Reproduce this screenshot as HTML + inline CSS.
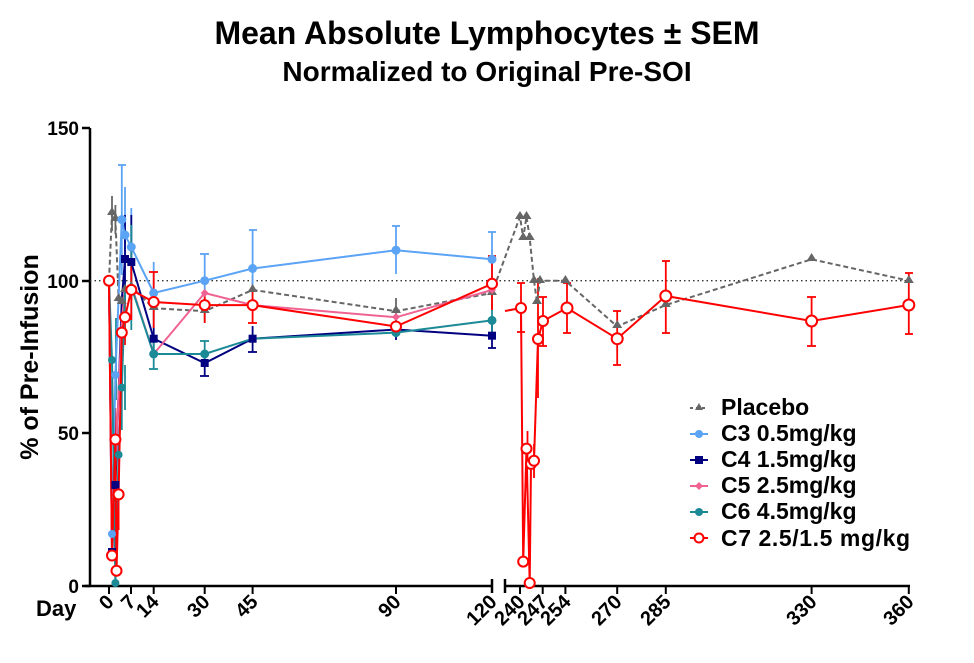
<!DOCTYPE html>
<html><head><meta charset="utf-8"><style>
body{margin:0;background:#fff}
text{font-family:"Liberation Sans",Arial,sans-serif;font-weight:bold}
</style></head><body>
<svg width="974" height="658" xmlns="http://www.w3.org/2000/svg">
<text x="487" y="44" font-size="32" text-anchor="middle">Mean Absolute Lymphocytes ± SEM</text>
<text x="487" y="81" font-size="28" text-anchor="middle">Normalized to Original Pre-SOI</text>
<text transform="translate(38,357) rotate(-90)" font-size="25" text-anchor="middle">% of Pre-Infusion</text>
<g stroke="#000" stroke-width="2.5" fill="none">
<line x1="90" y1="128" x2="90" y2="587"/>
<line x1="82" y1="128" x2="90" y2="128"/><line x1="82" y1="281" x2="90" y2="281"/>
<line x1="82" y1="433" x2="90" y2="433"/><line x1="82" y1="586" x2="90" y2="586"/>
<line x1="85" y1="586" x2="492" y2="586"/>
<line x1="492" y1="579" x2="492" y2="593"/>
<line x1="505" y1="586" x2="910" y2="586"/>
<line x1="505" y1="579" x2="505" y2="593"/>
<g stroke-width="2">
<line x1="109" y1="586" x2="109" y2="594"/><line x1="131" y1="586" x2="131" y2="594"/><line x1="153.7" y1="586" x2="153.7" y2="594"/>
<line x1="204.7" y1="586" x2="204.7" y2="594"/><line x1="252.6" y1="586" x2="252.6" y2="594"/><line x1="396" y1="586" x2="396" y2="594"/>
<line x1="520" y1="586" x2="520" y2="594"/><line x1="542.7" y1="586" x2="542.7" y2="594"/><line x1="565.4" y1="586" x2="565.4" y2="594"/>
<line x1="617.2" y1="586" x2="617.2" y2="594"/><line x1="665.8" y1="586" x2="665.8" y2="594"/><line x1="811.6" y1="586" x2="811.6" y2="594"/><line x1="908.8" y1="586" x2="908.8" y2="594"/>
</g></g>
<g font-size="19" text-anchor="end">
<text x="79" y="135">150</text><text x="79" y="288">100</text><text x="79" y="440">50</text><text x="79" y="593">0</text>
</g>
<text x="36" y="616" font-size="22">Day</text>
<g font-size="20" text-anchor="end">
<text transform="translate(115,603) rotate(-45)">0</text>
<text transform="translate(137,603) rotate(-45)">7</text>
<text transform="translate(160,603) rotate(-45)">14</text>
<text transform="translate(211,603) rotate(-45)">30</text>
<text transform="translate(259,603) rotate(-45)">45</text>
<text transform="translate(402,603) rotate(-45)">90</text>
<text transform="translate(498,603) rotate(-45)">120</text>
<text transform="translate(526,603) rotate(-45)">240</text>
<text transform="translate(549,603) rotate(-45)">247</text>
<text transform="translate(572,603) rotate(-45)">254</text>
<text transform="translate(623,603) rotate(-45)">270</text>
<text transform="translate(672,603) rotate(-45)">285</text>
<text transform="translate(818,603) rotate(-45)">330</text>
<text transform="translate(915,603) rotate(-45)">360</text>
</g>
<line x1="90" y1="280.7" x2="910" y2="280.7" stroke="#333" stroke-width="1.3" stroke-dasharray="1.5,3"/>

<g stroke-width="1.8" fill="none">
<g stroke="#666"><line x1="112" y1="196" x2="112" y2="231"/><line x1="115.4" y1="205" x2="115.4" y2="234"/><line x1="153.7" y1="296" x2="153.7" y2="320"/><line x1="204.7" y1="300" x2="204.7" y2="322"/><line x1="252.6" y1="276" x2="252.6" y2="304"/><line x1="396" y1="298" x2="396" y2="324"/><line x1="492" y1="276" x2="492" y2="310"/></g>
<g stroke="#5ba3f5"><line x1="121.8" y1="165" x2="121.8" y2="275"/><line x1="125" y1="187" x2="125" y2="283"/><line x1="131.3" y1="208" x2="131.3" y2="285"/><line x1="153.7" y1="262" x2="153.7" y2="325"/><line x1="204.7" y1="254" x2="204.7" y2="306"/><line x1="252.6" y1="230" x2="252.6" y2="306"/><line x1="396" y1="226" x2="396" y2="274"/><line x1="492" y1="232" x2="492" y2="286"/>
<line x1="118" y1="165" x2="126" y2="165"/><line x1="249" y1="230" x2="257" y2="230"/><line x1="392" y1="226" x2="400" y2="226"/><line x1="488" y1="232" x2="496" y2="232"/><line x1="200" y1="254" x2="209" y2="254"/></g>
<g stroke="#000080"><line x1="125" y1="215" x2="125" y2="300"/><line x1="131.3" y1="215" x2="131.3" y2="300"/><line x1="153.7" y1="325" x2="153.7" y2="352"/><line x1="204.7" y1="350" x2="204.7" y2="376"/><line x1="252.6" y1="326" x2="252.6" y2="352"/><line x1="396" y1="320" x2="396" y2="340"/><line x1="492" y1="323" x2="492" y2="348"/>
<line x1="200" y1="376" x2="209" y2="376"/><line x1="248" y1="352" x2="257" y2="352"/><line x1="488" y1="348" x2="496" y2="348"/></g>
<g stroke="#1b8a96"><line x1="116" y1="318" x2="116" y2="400"/><line x1="121.8" y1="340" x2="121.8" y2="430"/><line x1="125" y1="365" x2="125" y2="410"/><line x1="131.3" y1="225" x2="131.3" y2="330"/><line x1="153.7" y1="340" x2="153.7" y2="369"/><line x1="204.7" y1="341" x2="204.7" y2="366"/><line x1="492" y1="306" x2="492" y2="335"/>
<line x1="149" y1="369" x2="158" y2="369"/><line x1="200" y1="341" x2="209" y2="341"/></g>
<g stroke="#f00"><line x1="115.4" y1="408" x2="115.4" y2="470"/><line x1="118.6" y1="462" x2="118.6" y2="530"/><line x1="121.8" y1="318" x2="121.8" y2="350"/><line x1="125" y1="300" x2="125" y2="345"/><line x1="131.3" y1="262" x2="131.3" y2="320"/><line x1="153.7" y1="272" x2="153.7" y2="328"/><line x1="204.7" y1="290" x2="204.7" y2="323"/><line x1="252.6" y1="285" x2="252.6" y2="323"/><line x1="492" y1="256" x2="492" y2="310"/>
<line x1="149" y1="272" x2="158" y2="272"/><line x1="248" y1="323" x2="257" y2="323"/><line x1="488" y1="256" x2="496" y2="256"/>
<line x1="521" y1="283" x2="521" y2="332"/><line x1="517" y1="283" x2="525" y2="283"/><line x1="517" y1="332" x2="525" y2="332"/>
<line x1="527.5" y1="431" x2="527.5" y2="462"/><line x1="534" y1="444" x2="534" y2="478"/><line x1="538" y1="278" x2="538" y2="398"/><line x1="543" y1="297" x2="543" y2="346"/><line x1="539" y1="297" x2="547" y2="297"/><line x1="539" y1="346" x2="547" y2="346"/>
<line x1="567" y1="283" x2="567" y2="333"/><line x1="563" y1="283" x2="571" y2="283"/><line x1="563" y1="333" x2="571" y2="333"/>
<line x1="617.2" y1="311" x2="617.2" y2="365"/><line x1="613" y1="311" x2="621" y2="311"/><line x1="613" y1="365" x2="621" y2="365"/>
<line x1="665.8" y1="261" x2="665.8" y2="333"/><line x1="662" y1="261" x2="670" y2="261"/><line x1="662" y1="333" x2="670" y2="333"/>
<line x1="811.6" y1="297" x2="811.6" y2="346"/><line x1="807" y1="297" x2="816" y2="297"/><line x1="807" y1="346" x2="816" y2="346"/>
<line x1="908.8" y1="273" x2="908.8" y2="334"/><line x1="905" y1="273" x2="913" y2="273"/><line x1="905" y1="334" x2="913" y2="334"/></g>
</g>

<g fill="none" stroke-width="2">
<polyline stroke="#666" stroke-dasharray="5,3" points="109,280.7 112,213.5 115.4,219.6 118.6,299 121.8,302 125,289.9 131.3,286.8 153.7,308.2 204.7,311.2 252.6,289.9 396,311.2 492,293 520,216.6 523.2,238 526.5,216.6 529.7,238 534,280.7 537,302 540,280.7 565.4,280.7 617.2,326.5 665.8,305 811.6,259.3 908.8,280.7"/>
<polyline stroke="#5ba3f5" points="109,280.7 112,534 115.4,375.3 121.8,219.6 125,235 131.3,247 153.7,293 204.7,280.7 252.6,268.5 396,250.2 492,259.3"/>
<polyline stroke="#000080" points="109,280.7 112,552.4 115.4,485.2 121.8,300 125,259.3 131.3,262.4 153.7,338.7 204.7,363.1 252.6,338.7 396,329.5 492,335.7"/>
<polyline stroke="#f06292" points="109,280.7 112,540 115.4,470 121.8,320 125,290 131.3,285 153.7,354 204.7,293 252.6,305.1 396,317.3 492,290"/>
<polyline stroke="#1b8a96" points="109,280.7 112,360 115.4,583 118.6,454.7 121.8,387.6 125,293 131.3,286.8 153.7,354 204.7,354 252.6,338.7 396,332.6 492,320.4"/>
<polyline stroke="#f00" points="109,280.7 112,555.5 115.4,439.5 116.5,570.7 118.6,494.4 121.8,332.6 125,317.3 131.3,289.9 153.7,302 204.7,305.1 252.6,305.1 396,326.5 492,283.8"/>
<polyline stroke="#f00" points="505,311 521,308 523.2,561.6 526.5,448.6 529.7,583 531,463.9 534,460.8 538,339 543,321 567,308 617.2,338.7 665.8,296 811.6,321 908.8,305"/>
</g>

<g fill="#666"><path d="M112,207l5,8h-10z M115.4,213l5,8h-10z M118.6,293l5,8h-10z M121.8,296l5,8h-10z M125,284l5,8h-10z M131.3,281l5,8h-10z M153.7,302l5,8h-10z M204.7,305l5,8h-10z M252.6,284l5,8h-10z M396,305l5,8h-10z M492,287l5,8h-10z M520,211l5,8h-10z M523.2,232l5,8h-10z M526.5,211l5,8h-10z M529.7,232l5,8h-10z M534,275l5,8h-10z M537,296l5,8h-10z M540,275l5,8h-10z M565.4,275l5,8h-10z M617.2,320l5,8h-10z M665.8,299l5,8h-10z M811.6,253l5,8h-10z M908.8,275l5,8h-10z"/></g>
<g fill="#5ba3f5"><circle cx="112" cy="534" r="4"/><circle cx="115.4" cy="375" r="4"/><circle cx="121.8" cy="219.6" r="4.5"/><circle cx="125" cy="235" r="4.5"/><circle cx="131.3" cy="247" r="4.5"/><circle cx="153.7" cy="293" r="4.5"/><circle cx="204.7" cy="280.7" r="4.5"/><circle cx="252.6" cy="268.5" r="4.5"/><circle cx="396" cy="250.2" r="4.5"/><circle cx="492" cy="259.3" r="4.5"/></g>
<g fill="#000080"><rect x="108" y="548" width="8" height="8"/><rect x="111.4" y="481" width="8" height="8"/><rect x="121" y="255" width="8" height="8"/><rect x="127.3" y="258" width="8" height="8"/><rect x="149.7" y="334.7" width="8" height="8"/><rect x="200.7" y="359" width="8" height="8"/><rect x="248.6" y="334.7" width="8" height="8"/><rect x="392" y="325.5" width="8" height="8"/><rect x="488" y="331.7" width="8" height="8"/></g>
<g fill="#f06292"><path d="M153.7,350l4,4-4,4-4-4z M204.7,289l4,4-4,4-4-4z M252.6,301l4,4-4,4-4-4z M396,313l4,4-4,4-4-4z M492,286l4,4-4,4-4-4z"/></g>
<g fill="#1b8a96" stroke="#1b8a96"><circle cx="112" cy="360" r="3.5"/><circle cx="115.4" cy="583" r="3.5"/><circle cx="118.6" cy="454.7" r="3.5"/><circle cx="121.8" cy="387.6" r="3.5"/><circle cx="153.7" cy="354" r="4"/><circle cx="204.7" cy="354" r="4"/><circle cx="396" cy="332.6" r="4"/><circle cx="492" cy="320.4" r="4"/></g>
<g fill="#fff" stroke="#f00" stroke-width="2"><circle cx="109" cy="280.7" r="5"/><circle cx="112" cy="555.5" r="5"/><circle cx="115.4" cy="439.5" r="5"/><circle cx="116.5" cy="570.7" r="5"/><circle cx="118.6" cy="494.4" r="5"/><circle cx="121.8" cy="332.6" r="5"/><circle cx="125" cy="317.3" r="5"/><circle cx="131.3" cy="289.9" r="5"/><circle cx="153.7" cy="302" r="5"/><circle cx="204.7" cy="305.1" r="5"/><circle cx="252.6" cy="305.1" r="5"/><circle cx="396" cy="326.5" r="5"/><circle cx="492" cy="283.8" r="5"/>
<circle cx="521" cy="308" r="5"/><circle cx="523.2" cy="561.6" r="5"/><circle cx="526.5" cy="448.6" r="5"/><circle cx="529.7" cy="583" r="5"/><circle cx="531" cy="463.9" r="5"/><circle cx="534" cy="460.8" r="5"/><circle cx="538" cy="339" r="5"/><circle cx="543" cy="321" r="5"/><circle cx="567" cy="308" r="5.5"/><circle cx="617.2" cy="338.7" r="5.5"/><circle cx="665.8" cy="296" r="5.5"/><circle cx="811.6" cy="321" r="5.5"/><circle cx="908.8" cy="305" r="5.5"/></g>

<g stroke-width="2">
<line x1="690" y1="408" x2="708" y2="408" stroke="#666" stroke-dasharray="3,3"/><path d="M699,403l4,7h-8z" fill="#666"/>
<line x1="690" y1="434" x2="708" y2="434" stroke="#5ba3f5"/><circle cx="699" cy="434" r="4" fill="#5ba3f5"/>
<line x1="690" y1="460" x2="708" y2="460" stroke="#000080"/><rect x="695" y="456" width="8" height="8" fill="#000080"/>
<line x1="690" y1="486" x2="708" y2="486" stroke="#f06292"/><path d="M699,482l4,4-4,4-4-4z" fill="#f06292"/>
<line x1="690" y1="512" x2="708" y2="512" stroke="#1b8a96"/><circle cx="699" cy="512" r="4" fill="#1b8a96"/>
<line x1="690" y1="538" x2="708" y2="538" stroke="#f00"/><circle cx="699" cy="538" r="4.5" fill="#fff" stroke="#f00"/>
</g>
<g font-size="23">
<text x="721" y="415">Placebo</text><text x="721" y="441">C3 0.5mg/kg</text><text x="721" y="467">C4 1.5mg/kg</text>
<text x="721" y="493">C5 2.5mg/kg</text><text x="721" y="519">C6 4.5mg/kg</text><text x="721" y="546" textLength="189">C7 2.5/1.5 mg/kg</text>
</g>
</svg>
</body></html>
